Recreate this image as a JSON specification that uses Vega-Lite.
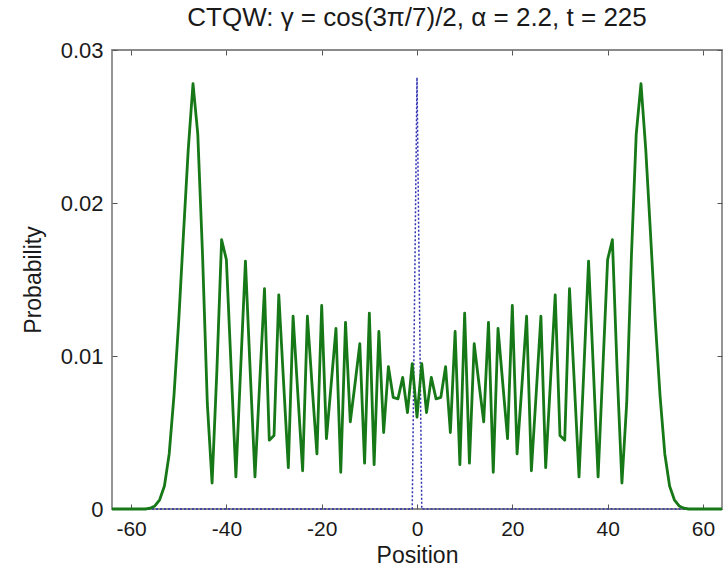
{
  "$schema": "https://vega.github.io/schema/vega-lite/v6.json",
  "width": 610,
  "height": 459,
  "autosize": {"type": "none"},
  "padding": {"left": 112, "top": 50, "right": 1, "bottom": 65},
  "background": "white",
  "title": {
    "text": "CTQW: γ = cos(3π/7)/2, α = 2.2, t = 225",
    "font": "Liberation Sans",
    "fontSize": 26,
    "fontWeight": "normal",
    "color": "#1a1a1a",
    "offset": 8,
    "anchor": "middle"
  },
  "config": {
    "view": {"stroke": "#8a8a8a", "strokeWidth": 1.8},
    "axis": {
      "domain": false,
      "grid": false,
      "tickColor": "#555555",
      "tickSize": -5,
      "tickWidth": 1,
      "labelFont": "Liberation Sans",
      "labelFontSize": 22,
      "labelColor": "#1a1a1a",
      "titleFont": "Liberation Sans",
      "titleFontSize": 23,
      "titleFontWeight": "normal",
      "titleColor": "#1a1a1a"
    }
  },
  "datasets": {
    "quantum": [
      {"pos": -64, "prob": 0}, {"pos": -63, "prob": 0}, {"pos": -62, "prob": 0}, {"pos": -61, "prob": 0},
      {"pos": -60, "prob": 0}, {"pos": -59, "prob": 0}, {"pos": -58, "prob": 0}, {"pos": -57, "prob": 0},
      {"pos": -56, "prob": 0.00005}, {"pos": -55, "prob": 0.0002}, {"pos": -54, "prob": 0.0006},
      {"pos": -53, "prob": 0.0015}, {"pos": -52, "prob": 0.0036}, {"pos": -51, "prob": 0.0074},
      {"pos": -50, "prob": 0.0123}, {"pos": -49, "prob": 0.018}, {"pos": -48, "prob": 0.0235},
      {"pos": -47, "prob": 0.0278}, {"pos": -46, "prob": 0.0245}, {"pos": -45, "prob": 0.0166},
      {"pos": -44, "prob": 0.0069}, {"pos": -43, "prob": 0.0017}, {"pos": -42, "prob": 0.009},
      {"pos": -41, "prob": 0.0176}, {"pos": -40, "prob": 0.0163}, {"pos": -39, "prob": 0.0092},
      {"pos": -38, "prob": 0.0021}, {"pos": -37, "prob": 0.0092}, {"pos": -36, "prob": 0.0162},
      {"pos": -35, "prob": 0.009}, {"pos": -34, "prob": 0.0021}, {"pos": -33, "prob": 0.0083},
      {"pos": -32, "prob": 0.0144}, {"pos": -31, "prob": 0.0045}, {"pos": -30, "prob": 0.0048},
      {"pos": -29, "prob": 0.014}, {"pos": -28, "prob": 0.0083}, {"pos": -27, "prob": 0.0027},
      {"pos": -26, "prob": 0.0126}, {"pos": -25, "prob": 0.0075}, {"pos": -24, "prob": 0.0025},
      {"pos": -23, "prob": 0.0126}, {"pos": -22, "prob": 0.008}, {"pos": -21, "prob": 0.0036},
      {"pos": -20, "prob": 0.0133}, {"pos": -19, "prob": 0.0046}, {"pos": -18, "prob": 0.0082},
      {"pos": -17, "prob": 0.0118}, {"pos": -16, "prob": 0.0024}, {"pos": -15, "prob": 0.0122},
      {"pos": -14, "prob": 0.0057}, {"pos": -13, "prob": 0.0082}, {"pos": -12, "prob": 0.0108},
      {"pos": -11, "prob": 0.003}, {"pos": -10, "prob": 0.0128}, {"pos": -9, "prob": 0.0029},
      {"pos": -8, "prob": 0.0116}, {"pos": -7, "prob": 0.005}, {"pos": -6, "prob": 0.0093},
      {"pos": -5, "prob": 0.0073}, {"pos": -4, "prob": 0.0072}, {"pos": -3, "prob": 0.0086},
      {"pos": -2, "prob": 0.0063}, {"pos": -1, "prob": 0.0095}, {"pos": 0, "prob": 0.006},
      {"pos": 1, "prob": 0.0095}, {"pos": 2, "prob": 0.0063}, {"pos": 3, "prob": 0.0086},
      {"pos": 4, "prob": 0.0072}, {"pos": 5, "prob": 0.0073}, {"pos": 6, "prob": 0.0093},
      {"pos": 7, "prob": 0.005}, {"pos": 8, "prob": 0.0116}, {"pos": 9, "prob": 0.0029},
      {"pos": 10, "prob": 0.0128}, {"pos": 11, "prob": 0.003}, {"pos": 12, "prob": 0.0108},
      {"pos": 13, "prob": 0.0082}, {"pos": 14, "prob": 0.0057}, {"pos": 15, "prob": 0.0122},
      {"pos": 16, "prob": 0.0024}, {"pos": 17, "prob": 0.0118}, {"pos": 18, "prob": 0.0082},
      {"pos": 19, "prob": 0.0046}, {"pos": 20, "prob": 0.0133}, {"pos": 21, "prob": 0.0036},
      {"pos": 22, "prob": 0.008}, {"pos": 23, "prob": 0.0126}, {"pos": 24, "prob": 0.0025},
      {"pos": 25, "prob": 0.0075}, {"pos": 26, "prob": 0.0126}, {"pos": 27, "prob": 0.0027},
      {"pos": 28, "prob": 0.0083}, {"pos": 29, "prob": 0.014}, {"pos": 30, "prob": 0.0048},
      {"pos": 31, "prob": 0.0045}, {"pos": 32, "prob": 0.0144}, {"pos": 33, "prob": 0.0083},
      {"pos": 34, "prob": 0.0021}, {"pos": 35, "prob": 0.009}, {"pos": 36, "prob": 0.0162},
      {"pos": 37, "prob": 0.0092}, {"pos": 38, "prob": 0.0021}, {"pos": 39, "prob": 0.0092},
      {"pos": 40, "prob": 0.0163}, {"pos": 41, "prob": 0.0176}, {"pos": 42, "prob": 0.009},
      {"pos": 43, "prob": 0.0017}, {"pos": 44, "prob": 0.0069}, {"pos": 45, "prob": 0.0166},
      {"pos": 46, "prob": 0.0245}, {"pos": 47, "prob": 0.0278}, {"pos": 48, "prob": 0.0235},
      {"pos": 49, "prob": 0.018}, {"pos": 50, "prob": 0.0123}, {"pos": 51, "prob": 0.0074},
      {"pos": 52, "prob": 0.0036}, {"pos": 53, "prob": 0.0015}, {"pos": 54, "prob": 0.0006},
      {"pos": 55, "prob": 0.0002}, {"pos": 56, "prob": 0.00005}, {"pos": 57, "prob": 0},
      {"pos": 58, "prob": 0}, {"pos": 59, "prob": 0}, {"pos": 60, "prob": 0}, {"pos": 61, "prob": 0},
      {"pos": 62, "prob": 0}, {"pos": 63, "prob": 0}, {"pos": 64, "prob": 0}
    ],
    "initial": [
      {"pos": -64, "prob": 0}, {"pos": -1, "prob": 0}, {"pos": 0, "prob": 0.0282},
      {"pos": 1, "prob": 0}, {"pos": 64, "prob": 0}
    ]
  },
  "layer": [
    {
      "data": {"name": "initial"},
      "mark": {"type": "line", "color": "#3030b0", "strokeWidth": 1.5, "strokeDash": [2, 2]},
      "encoding": {
        "x": {
          "field": "pos", "type": "quantitative",
          "scale": {"domain": [-64, 64], "nice": false, "zero": false},
          "axis": {
            "orient": "bottom", "title": "Position", "values": [-60, -40, -20, 0, 20, 40, 60],
            "labelPadding": 14, "labelFontSize": 21, "titlePadding": 5,
            "labelExpr": "datum.value < 0 ? '-' + abs(datum.value) : '' + datum.value"
          }
        },
        "y": {
          "field": "prob", "type": "quantitative",
          "scale": {"domain": [0, 0.03], "nice": false},
          "axis": {
            "orient": "left", "title": "Probability", "values": [0, 0.01, 0.02, 0.03],
            "labelPadding": 14, "titlePadding": 15,
            "labelExpr": "datum.value == 0 ? '0' : format(datum.value, '.2f')"
          }
        }
      }
    },
    {
      "data": {"name": "quantum"},
      "mark": {"type": "line", "color": "#167816", "strokeWidth": 2.8, "strokeJoin": "round"},
      "encoding": {
        "x": {
          "field": "pos", "type": "quantitative",
          "axis": {"orient": "top", "title": null, "labels": false, "values": [-60, -40, -20, 0, 20, 40, 60]}
        },
        "y": {
          "field": "prob", "type": "quantitative",
          "axis": {"orient": "right", "title": null, "labels": false, "values": [0, 0.01, 0.02, 0.03]}
        }
      }
    }
  ],
  "resolve": {"axis": {"x": "independent", "y": "independent"}}
}
